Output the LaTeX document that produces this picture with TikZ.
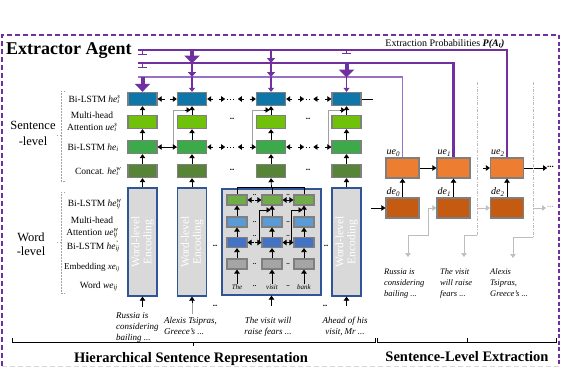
\documentclass[tikz,border=0pt]{standalone}
\usepackage{fontspec}
\setmainfont{Liberation Serif}
\usetikzlibrary{arrows.meta}
\definecolor{purp}{HTML}{7030A0}
\definecolor{purpl}{HTML}{9A70C4}
\definecolor{sblue}{HTML}{0E76A8}
\definecolor{lgreen}{HTML}{70C10A}
\definecolor{mgreen}{HTML}{3DAA4A}
\definecolor{dgreen}{HTML}{578436}
\definecolor{igreen}{HTML}{70AD47}
\definecolor{ilblue}{HTML}{5B9BD5}
\definecolor{idblue}{HTML}{4472C4}
\definecolor{igray}{HTML}{A5A5A5}
\definecolor{encgray}{HTML}{D9D9D9}
\definecolor{encblue}{HTML}{2F5597}
\definecolor{uecol}{HTML}{ED7D31}
\definecolor{decol}{HTML}{C55A11}
\definecolor{bordgray}{HTML}{7F7F7F}
\definecolor{lgray}{HTML}{BDBDBD}
\definecolor{dgray}{HTML}{A0A0A0}
\newcommand{\myvar}[3]{\textit{#1}\rlap{\textsuperscript{\textit{#2}}}\textsubscript{\textit{#3}}}
\tikzset{
 sbox/.style={draw=bordgray, line width=1.3pt, minimum width=29pt, minimum height=13pt, inner sep=0pt},
 ibox/.style={draw=bordgray, line width=1.1pt, minimum width=20pt, minimum height=10pt, inner sep=0pt},
 ebox/.style={draw=encblue, fill=encgray, line width=1.2pt, minimum width=29pt, minimum height=108pt, inner sep=0pt},
 obox/.style={draw=bordgray, line width=1.2pt, minimum width=33pt, minimum height=20pt, inner sep=0pt},
 arr/.style={-{Triangle[width=5.5pt,length=4pt]}, line width=0.7pt, black},
 garr/.style={-{Triangle[width=5.5pt,length=4pt]}, line width=0.7pt, lgray},
 bigp/.style={purp, line width=4pt, -{Triangle[width=15pt,length=8pt]}},
 medp/.style={purp, line width=1.8pt, -{Triangle[width=8pt,length=5pt]}},
 smp/.style={purp, line width=1.2pt, -{Triangle[width=6pt,length=4pt]}},
 tickp/.style={purp, line width=1.2pt, -{Bar[width=9pt]}},
 lbl/.style={font=\fontsize{9.5}{12}\selectfont, inner sep=0pt},
 enctxt/.style={rotate=90, text=white, align=center, font=\fontsize{11.5}{12}\selectfont, inner sep=0pt},
 itx/.style={font=\fontsize{9}{11}\selectfont\itshape, align=left, inner sep=0pt},
 dts/.style={font=\fontsize{9}{9}\selectfont\bfseries, inner sep=0pt},
 brk/.style={dgray, line width=0.6pt, dash pattern=on 1.5pt off 1.5pt},
}
\newcommand{\gapar}[2]{%
 \draw[arr] ([xshift=6pt]#1.east) -- (#1.east);
 \draw[arr] ([xshift=12pt]#1.east) -- ([xshift=18pt]#1.east);
 \draw[dotted, line width=1pt] ([xshift=20pt]#1.east) -- ([xshift=-20pt]#2.west);
 \draw[arr] ([xshift=-12pt]#2.west) -- ([xshift=-18pt]#2.west);
 \draw[arr] ([xshift=-6pt]#2.west) -- (#2.west);}
\begin{document}
\begin{tikzpicture}[x=1pt,y=-1pt]
\useasboundingbox (0,0) rectangle (562,368);
% frame
\draw[purp, line width=1.3pt, dash pattern=on 5pt off 3pt] (2,366) -- (2,35) -- (559,35);
\draw[purp, line width=2.6pt, dash pattern=on 4pt off 2.5pt] (559,35) -- (559,366);
\draw[black!15, line width=1pt, dash pattern=on 5pt off 3pt] (2,366) -- (559,366);
\node[font=\fontsize{18}{20}\selectfont\bfseries, anchor=base west, inner sep=0pt] (title) at (6,54) {Extractor Agent};
\node[font=\fontsize{10}{12}\selectfont, anchor=base, inner sep=0pt] (prob) at (445,46) {Extraction Probabilities {\bfseries\itshape P(A\textsubscript{t})}};

% sentence level columns
\foreach \i/\x in {0/142.5,1/192,2/271,3/346.5}{
 \node[sbox, fill=sblue] (s\i b) at (\x,99) {};
 \node[sbox, fill=lgreen] (s\i m) at (\x,122) {};
 \node[sbox, fill=mgreen] (s\i h) at (\x,147) {};
 \node[sbox, fill=dgreen] (s\i c) at (\x,171) {};
 \draw[arr] (s\i c.north) -- (s\i h.south);
 \draw[arr] (s\i h.north) -- (s\i m.south);
 \draw[arr] (s\i m.north) -- (s\i b.south);
}
% skip connections
\foreach \i in {1,2,3}{
 \draw[dgray, line width=0.6pt] (s\i h.west) -- ++(-3.5,0) |- ([xshift=-6pt]s\i m.north |- 0,110);
 \draw[arr] ([xshift=-7pt]s\i m.north |- 0,110) -- ([xshift=-1.5pt]s\i m.north |- 0,110);
}
% horizontal arrows blue row
\draw[arr] ([xshift=7pt]s0b.east) -- (s0b.east);
\draw[arr] ([xshift=-7pt]s1b.west) -- (s1b.west);
\gapar{s1b}{s2b}
\gapar{s2b}{s3b}
\draw[line width=0.8pt] (s3b.east) -- (373,99);
% bi-lstm row
\draw[{Triangle[width=5.5pt,length=4pt]}-{Triangle[width=5.5pt,length=4pt]}, line width=0.7pt] (s0h.east) -- (s1h.west);
\gapar{s1h}{s2h}
\gapar{s2h}{s3h}
% dots
\node[dts] at (232,119) {..};
\node[dts] at (308,119) {..};
\node[dts] at (232,170) {..};
\node[dts] at (308,170) {..};

% word-level encoders
\foreach \i/\x in {0/142.5,1/192,3/346.5}{
 \node[ebox] (w\i) at (\x,242) {};
 \node[enctxt] at (w\i) {Word-level\\Encoding};
 \draw[arr] (w\i.north) -- (s\i c.south);
}
\node[ebox, minimum width=99pt, minimum height=106pt] (w2) at (271.5,242) {};
\foreach \j/\x/\w in {a/237/The,b/272/visit,c/304/bank}{
 \node[ibox, fill=igreen] (g\j) at (\x,200) {};
 \node[ibox, fill=ilblue] (l\j) at (\x,222) {};
 \node[ibox, fill=idblue] (d\j) at (\x,242.5) {};
 \node[ibox, fill=igray] (e\j) at (\x,264) {};
 \node[font=\fontsize{7}{8}\selectfont\itshape, inner sep=0pt] (t\j) at (\x,287) {\w};
 \draw[arr] (t\j.north) -- (e\j.south);
 \draw[arr] (e\j.north) -- (d\j.south);
 \draw[arr] (d\j.north) -- (l\j.south);
 \draw[arr] (l\j.north) -- (g\j.south);
 \draw[line width=0.7pt] (g\j.north) -- (\x,187);
}
\draw[line width=0.7pt] (237,187) -- (304,187);
\draw[arr] (271.5,187) -- (s2c.south);
\foreach \p/\q in {a/b,b/c}{
 \draw[arr] ([xshift=6pt]g\p.east) -- (g\p.east);
 \draw[arr] ([xshift=-6pt]g\q.west) -- (g\q.west);
 \draw[arr] ([xshift=6pt]d\p.east) -- (d\p.east);
 \draw[arr] ([xshift=-6pt]d\q.west) -- (d\q.west);
}
\foreach \q in {b,c}{
 \draw[line width=0.6pt] (d\q.west) -- ++(-2,0) |- ([xshift=-7pt]g\q.south |- 0,210);
 \draw[arr] ([xshift=-7pt]g\q.south |- 0,210) -- ([xshift=-1.5pt]g\q.south |- 0,210);
}
\foreach \x in {254.5,288}{
 \node[dts, font=\fontsize{7}{7}\selectfont\bfseries] at (\x,195.5) {..};
 \node[dts, font=\fontsize{7}{7}\selectfont\bfseries] at (\x,222) {..};
 \node[dts, font=\fontsize{7}{7}\selectfont\bfseries] at (\x,236.5) {..};
 \node[dts, font=\fontsize{7}{7}\selectfont\bfseries] at (\x,264) {..};
 \node[dts, font=\fontsize{7}{7}\selectfont\bfseries] at (\x,286) {..};
}
\node[dts] at (215,246) {..};
\node[dts] at (326,246) {..};
\node[dts] at (215,306) {..};
\node[dts] at (325,306) {..};

% input sentences (anchor base = last line)
\node[itx, anchor=base west] (x0) at (116,340) {Russia is\\considering\\bailing ...};
\node[itx, anchor=base west] (x1) at (164,334) {Alexis Tsipras,\\Greece's ...};
\node[itx, anchor=base, align=center] (x2) at (268,334) {The visit will\\raise fears ...};
\node[itx, anchor=base, align=center] (x3) at (345,334) {Ahead of his\\visit, Mr ...};
\draw[arr] (142.5,307) -- (w0.south);
\draw[dgray, line width=0.6pt] (192,314) -- (192,303);
\draw[arr] (192,303) -- (w1.south);
\draw[arr] (271.5,306) -- (w2.south);
\draw[arr] (346.5,306) -- (w3.south);

% row labels
\node[lbl, anchor=base east] at (120,102) {Bi-LSTM \myvar{he}{s}{i}};
\node[lbl, anchor=base, align=center] at (92,130) {Multi-head\\Attention \myvar{ue}{s}{i}};
\node[lbl, anchor=base east] at (119,150) {Bi-LSTM \myvar{he}{}{i}};
\node[lbl, anchor=base east] at (119,174) {Concat. \myvar{he}{w}{i}};
\node[lbl, anchor=base east] at (121,206) {Bi-LSTM \myvar{he}{w}{ij}};
\node[lbl, anchor=base, align=center] at (92,235) {Multi-head\\Attention \myvar{ue}{w}{ij}};
\node[lbl, anchor=base east] at (120,249) {Bi-LSTM \myvar{he}{'}{ij}};
\node[lbl, anchor=base east, font=\fontsize{9}{11}\selectfont] at (120,269) {Embedding \myvar{xe}{}{ij}};
\node[lbl, anchor=base east] at (118,288) {Word \myvar{we}{}{ij}};
\node[font=\fontsize{12.5}{16}\selectfont, anchor=base, align=center, inner sep=0pt] at (33,145) {Sentence\\-level};
\node[font=\fontsize{12.5}{14}\selectfont, anchor=base, align=center, inner sep=0pt] at (31,255) {Word\\-level};
\draw[brk] (65,91) -- (61,91) -- (61,181) -- (65,181);
\draw[brk] (61,135) -- (57,135);
\draw[brk] (65,192) -- (61,192) -- (61,293) -- (65,293);
\draw[brk] (61,242) -- (57,242);

% extraction part
\foreach \i/\x in {0/402.5,1/453.5,2/507}{
 \node[obox, fill=uecol] (ue\i) at (\x,168) {};
 \node[obox, fill=decol] (de\i) at (\x,208) {};
 \node[font=\fontsize{10}{12}\selectfont, anchor=south west, inner sep=1pt] at (ue\i.north west) {\textit{ue}\textsubscript{\textit{\i}}};
 \node[font=\fontsize{10}{12}\selectfont, anchor=south west, inner sep=1pt] at (de\i.north west) {\textit{de}\textsubscript{\textit{\i}}};
 \draw[arr] (de\i.north) -- (ue\i.south);
}
\draw[arr] (ue0.east) -- (ue1.west);
\draw[arr] ([xshift=-7pt]ue2.west) -- (ue2.west);
\draw[arr] (ue2.east) -- ++(23,0);
\node[dts, anchor=west] at (547,167) {...};
\draw[arr] ([xshift=-14pt]de0.west) -- (de0.west);
% gray feedback lines
\draw[lgray, line width=0.7pt] (408,235) -| (428,208);
\draw[garr] (428,208) -- (de1.west);
\draw[garr] (408,235) -- (408,257);
\draw[lgray, line width=0.7pt, dash pattern=on 3pt off 1.5pt on 0.8pt off 1.5pt] (477,82) -- (477,235);
\draw[lgray, line width=0.7pt] (477,235) -- (464,235);
\draw[garr] (464,235) -- (464,257);
\draw[garr] (477,208) -- (de2.west);
\draw[lgray, line width=0.7pt, dash pattern=on 3pt off 1.5pt on 0.8pt off 1.5pt] (533,82) -- (533,237);
\draw[garr] (533,208) -- (546,208);
\node[dts, anchor=west, text=lgray] at (547,207) {...};
\draw[lgray, line width=0.7pt] (533,237) -- (513,237);
\draw[garr] (513,237) -- (513,258);
\node[itx, anchor=base west, font=\fontsize{8.5}{11}\selectfont\itshape] at (384,296) {Russia is\\considering\\bailing ...};
\node[itx, anchor=base west, font=\fontsize{8.5}{11}\selectfont\itshape] at (440,296) {The visit\\will raise\\fears ...};
\node[itx, anchor=base west, font=\fontsize{8.5}{11}\selectfont\itshape] at (490,296) {Alexis\\Tsipras,\\Greece's ...};

% purple attention lines
\draw[purp, line width=2.2pt] (138,50) -| (ue2.north);
\draw[purp, line width=2.2pt] (138,63) -| (ue1.north);
\draw[purpl, line width=1.1pt] (138,77) -| (ue0.north);
% col0
\draw[tickp] (142.5,50) -- (142.5,55);
\draw[tickp] (142.5,63) -- (142.5,68);
\draw[bigp] (142.5,77) -- (s0b.north);
% col1
\draw[bigp] (192,50) -- (192,63.5);
\draw[medp] (192,63) -- (192,77);
\draw[smp] (192,77) -- (s1b.north);
% col2
\draw[medp] (271,50) -- (271,63);
\draw[medp] (271,63) -- (271,77);
\draw[smp] (271,77) -- (s2b.north);
% col3
\draw[tickp] (346.5,50) -- (346.5,54);
\draw[bigp] (346.5,63) -- (346.5,77.5);
\draw[smp] (346.5,77) -- (s3b.north);

% bottom braces
\draw[line width=0.6pt] (12,338) -- (12,342) -- (375,342) -- (375,338);
\draw[line width=0.6pt] (193,342) -- (193,346);
\draw[line width=0.6pt] (377,338) -- (377,342) -- (556,342) -- (556,338);
\draw[line width=0.6pt] (467,342) -- (467,338);
\node[font=\fontsize{14.5}{16}\selectfont\bfseries, anchor=base, inner sep=0pt] at (191,362) {Hierarchical Sentence Representation};
\node[font=\fontsize{14.5}{16}\selectfont\bfseries, anchor=base, inner sep=0pt] at (467,361) {Sentence-Level Extraction};
\end{tikzpicture}
\end{document}
